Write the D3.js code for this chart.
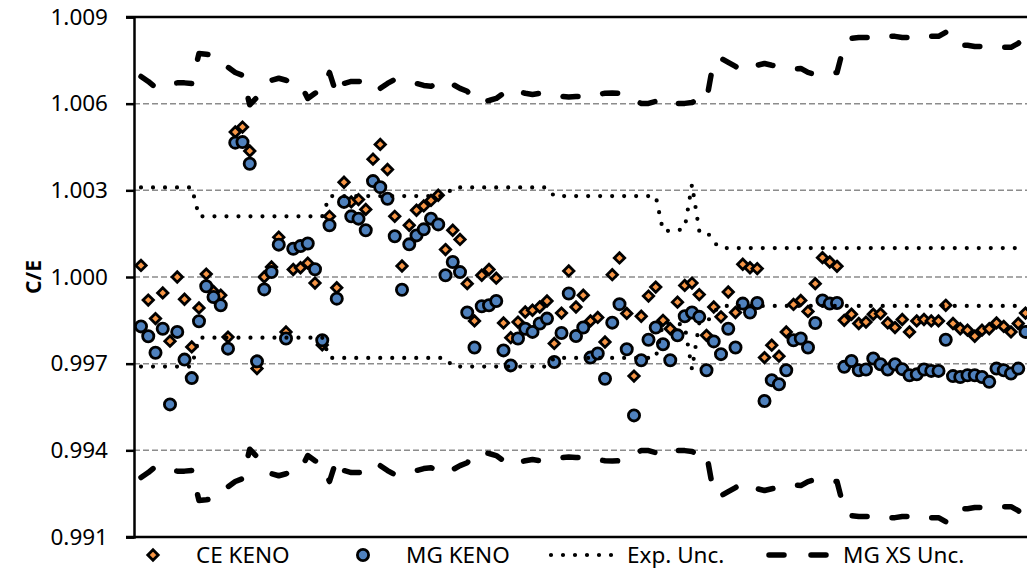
<!DOCTYPE html>
<html>
<head>
<meta charset="utf-8">
<script src="https://cdn.jsdelivr.net/npm/d3@7"></script>
<style>
  body { margin: 0; background: #fff; }
  svg text { font-family: "Noto Sans", "Open Sans", sans-serif; fill: #000; }
</style>
</head>
<body>
<div id="chart"></div>
<script>
// calculated / experimental values per benchmark case (index = case number)
var ceKeno = [
  1.0004, 0.9992, 0.99856, 0.99945, 0.99778, 1.0000, 0.99923, 0.99758, 0.99893, 1.0001,
  0.9995, 0.99937, 0.99792, 1.00502, 1.00519, 1.00436, 0.99683, 1.0000, 1.00035, 1.00138,
  0.9981, 1.00026, 1.00032, 1.00048, 0.99979, 0.99765, 1.0021, 0.99963, 1.00328, 1.0026,
  1.00268, 1.00234, 1.00408, 1.00459, 1.00372, 1.0021, 1.00038, 1.00179, 1.00231, 1.00246,
  1.00265, 1.00283, 1.00095, 1.00162, 1.0013, 0.99977, 0.99848, 1.00006, 1.00026, 0.99996,
  0.99841, 0.9979, 0.99844, 0.99879, 0.99885, 0.99896, 0.99917, 0.9977, 0.99875, 1.00021,
  0.99896, 0.99937, 0.99848, 0.9986, 0.99775, 1.00008, 1.00066, 0.99874, 0.99657, 0.99864,
  0.99934, 0.99965, 0.9985, 0.99821, 0.99913, 0.99971, 0.99979, 0.99939, 0.99798, 0.99896,
  0.99862, 0.99948, 0.99877, 1.00044, 1.00032, 1.00029, 0.99721, 0.99764, 0.99726, 0.9981,
  0.99905, 0.99919, 0.99881, 0.99977, 1.00067, 1.00052, 1.00037, 0.9985, 0.99871, 0.99839,
  0.99844, 0.99871, 0.99873, 0.99841, 0.99825, 0.99853, 0.9981, 0.99848, 0.99853, 0.99848,
  0.99848, 0.99902, 0.99839, 0.99821, 0.99816, 0.99795, 0.99816, 0.99821, 0.99841, 0.99829,
  0.9981, 0.99839, 0.99875
];
var mgKeno = [
  0.99829, 0.99795, 0.99738, 0.99821, 0.99559, 0.9981, 0.99714, 0.9965, 0.99847, 0.99968,
  0.99931, 0.99902, 0.99752, 1.00465, 1.00467, 1.00392, 0.99708, 0.99957, 1.00017, 1.00112,
  0.99787, 1.00098, 1.00107, 1.00116, 1.00027, 0.99781, 1.00179, 0.99925, 1.0026, 1.0021,
  1.00202, 1.00162, 1.00332, 1.00311, 1.00271, 1.00141, 0.99956, 1.00113, 1.00144, 1.00165,
  1.00202, 1.00182, 1.00006, 1.00052, 1.00017, 0.99877, 0.99756, 0.99899, 0.99902, 0.99917,
  0.99746, 0.99694, 0.99787, 0.99821, 0.9981, 0.99839, 0.99856, 0.99706, 0.99806, 0.99943,
  0.99796, 0.99825, 0.99721, 0.99735, 0.99648, 0.99842, 0.99906, 0.9975, 0.99521, 0.99712,
  0.99783, 0.99825, 0.99767, 0.99712, 0.99798, 0.99864, 0.99877, 0.99862, 0.99677, 0.99777,
  0.99733, 0.99821, 0.99756, 0.99908, 0.99877, 0.9991, 0.99571, 0.99643, 0.99629, 0.99677,
  0.99781, 0.99787, 0.99756, 0.99841, 0.99919, 0.99908, 0.9991, 0.99689, 0.99709, 0.99677,
  0.9968, 0.99718, 0.99698, 0.9968, 0.99698, 0.99681, 0.9966, 0.99663, 0.9968, 0.99675,
  0.99675, 0.99783, 0.99657, 0.99654, 0.9966, 0.9966, 0.99654, 0.99637, 0.99683, 0.99677,
  0.99666, 0.99683, 0.9981
];
// experimental uncertainty (1 sigma), drawn as 1 +/- unc
var expUnc = [
  0.0031, 0.0031, 0.0031, 0.0031, 0.0031, 0.0031, 0.0031, 0.0031, 0.0021, 0.0021,
  0.0021, 0.0021, 0.0021, 0.0021, 0.0021, 0.0021, 0.0021, 0.0021, 0.0021, 0.0021,
  0.0021, 0.0021, 0.0021, 0.0021, 0.0021, 0.0021, 0.0028, 0.0028, 0.0028, 0.0028,
  0.0028, 0.0028, 0.0028, 0.0028, 0.0028, 0.0028, 0.0028, 0.0028, 0.0028, 0.0028,
  0.0028, 0.0028, 0.0028, 0.0031, 0.0031, 0.0031, 0.0031, 0.0031, 0.0031, 0.0031,
  0.0031, 0.0031, 0.0031, 0.0031, 0.0031, 0.0031, 0.0031, 0.0028, 0.0028, 0.0028,
  0.0028, 0.0028, 0.0028, 0.0028, 0.0028, 0.0028, 0.0028, 0.0028, 0.0028, 0.0028,
  0.0028, 0.0028, 0.0016, 0.0016, 0.0016, 0.0017, 0.0032, 0.0016, 0.0016, 0.0012,
  0.0010, 0.0010, 0.0010, 0.0010, 0.0010, 0.0010, 0.0010, 0.0010, 0.0010, 0.0010,
  0.0010, 0.0010, 0.0010, 0.0010, 0.0010, 0.0010, 0.0010, 0.0010, 0.0010, 0.0010,
  0.0010, 0.0010, 0.0010, 0.0010, 0.0010, 0.0010, 0.0010, 0.0010, 0.0010, 0.0010,
  0.0010, 0.0010, 0.0010, 0.0010, 0.0010, 0.0010, 0.0010, 0.0010, 0.0010, 0.0010,
  0.0010, 0.0010, 0.0010
];
// MG cross section uncertainty, drawn as 1 +/- unc
var xsUnc = [
  0.00694, 0.00677, 0.00656, 0.00665, 0.0067, 0.00672, 0.00672, 0.0067, 0.00774, 0.00771,
  0.00767, 0.0075, 0.00726, 0.00708, 0.00698, 0.00596, 0.00622, 0.00653, 0.00681, 0.00688,
  0.00681, 0.0067, 0.00667, 0.00618, 0.00636, 0.00646, 0.00708, 0.00629, 0.0067, 0.00677,
  0.00677, 0.00674, 0.00681, 0.00653, 0.0067, 0.00684, 0.00681, 0.00674, 0.0067, 0.00663,
  0.0066, 0.00674, 0.00681, 0.00667, 0.00653, 0.00643, 0.00608, 0.00608, 0.00611, 0.00618,
  0.00636, 0.00653, 0.00643, 0.00636, 0.00632, 0.00636, 0.00636, 0.00632, 0.00625, 0.00623,
  0.00625, 0.00625, 0.00625, 0.00632, 0.00636, 0.00637, 0.00636, 0.00629, 0.00611, 0.00601,
  0.00601, 0.00608, 0.00618, 0.00611, 0.00601, 0.00601, 0.00604, 0.00618, 0.00611, 0.0075,
  0.00757, 0.00743, 0.00729, 0.00712, 0.00722, 0.00733, 0.00739, 0.00733, 0.00729, 0.00722,
  0.00719, 0.00722, 0.00708, 0.00701, 0.00701, 0.00705, 0.00708, 0.00805, 0.00826, 0.00829,
  0.00829, 0.00829, 0.00829, 0.00833, 0.00833, 0.00829, 0.00829, 0.00826, 0.00829, 0.00833,
  0.00833, 0.00847, 0.00812, 0.00802, 0.00802, 0.00798, 0.00798, 0.00795, 0.00795, 0.00795,
  0.00795, 0.00809, 0.00829
];
var yTicks = [0.991, 0.994, 0.997, 1.000, 1.003, 1.006, 1.009];
var yTitle = "C/E";
var legendLabels = ["CE KENO", "MG KENO", "Exp. Unc.", "MG XS Unc."];

var width = 1027, height = 569;
var plotLeft = 134, plotTop = 17, plotBottom = 537;
var markerStroke = 2.8;

var svg = d3.select("#chart").append("svg")
    .attr("width", width)
    .attr("height", height);

var x = d3.scaleLinear().domain([0, ceKeno.length - 1]).range([141, 1025.5]);
var y = d3.scaleLinear().domain([0.991, 1.009]).range([plotBottom, plotTop]);

// gridlines
svg.append("g")
    .selectAll("line")
    .data(yTicks.slice(1, -1))
    .enter()
    .append("line")
    .attr("x1", plotLeft)
    .attr("x2", width)
    .attr("y1", function(d) { return y(d); })
    .attr("y2", function(d) { return y(d); })
    .attr("stroke", "#8c8c8c")
    .attr("stroke-width", 1.5)
    .attr("stroke-dasharray", "6,3");

// y axis
var yAxis = d3.axisLeft(y)
    .tickValues(yTicks)
    .tickSize(8)
    .tickPadding(18)
    .tickFormat(d3.format(".3f"));
var gy = svg.append("g")
    .attr("transform", "translate(" + plotLeft + ",0)")
    .call(yAxis);
gy.select(".domain").attr("stroke", "#000").attr("stroke-width", 2.5);
gy.selectAll(".tick line").attr("stroke", "#000").attr("stroke-width", 2.5);
gy.selectAll(".tick text")
    .attr("font-size", 22.5)
    .attr("font-family", "'Noto Sans', sans-serif");

// top and bottom frame lines
[plotTop, plotBottom].forEach(function(py) {
    svg.append("line")
        .attr("x1", plotLeft - 8).attr("x2", width)
        .attr("y1", py).attr("y2", py)
        .attr("stroke", "#000")
        .attr("stroke-width", 2.5);
});

svg.append("text")
    .attr("transform", "translate(41," + y(1.0) + ") rotate(-90)")
    .attr("text-anchor", "middle")
    .attr("font-size", 21)
    .attr("font-weight", "bold")
    .text(yTitle);

var plot = svg.append("g");

var diamond = function(cx, cy, r) {
    return "M" + cx + "," + (cy - r) + "L" + (cx + r) + "," + cy +
        "L" + cx + "," + (cy + r) + "L" + (cx - r) + "," + cy + "Z";
};

// CE KENO diamonds
plot.append("g")
    .selectAll("path")
    .data(ceKeno)
    .enter()
    .append("path")
    .attr("d", function(d, i) { return diamond(x(i), y(d), 5.2); })
    .attr("fill", "#f79646")
    .attr("stroke", "#000")
    .attr("stroke-width", markerStroke);

// MG KENO circles
plot.append("g")
    .selectAll("circle")
    .data(mgKeno)
    .enter()
    .append("circle")
    .attr("cx", function(d, i) { return x(i); })
    .attr("cy", function(d) { return y(d); })
    .attr("r", 5.6)
    .attr("fill", "#4f81bd")
    .attr("stroke", "#000")
    .attr("stroke-width", markerStroke);

var upper = d3.line()
    .x(function(d, i) { return x(i); })
    .y(function(d) { return y(1 + d); });
var lower = d3.line()
    .x(function(d, i) { return x(i); })
    .y(function(d) { return y(1 - d); });

var lineStyles = [
    { data: expUnc, width: 4.2, dash: "0,12" },
    { data: xsUnc, width: 5.5, dash: "15,25" }
];
lineStyles.forEach(function(s) {
    [upper, lower].forEach(function(gen) {
        plot.append("path")
            .attr("d", gen(s.data))
            .attr("fill", "none")
            .attr("stroke", "#000")
            .attr("stroke-width", s.width)
            .attr("stroke-linecap", "round")
            .attr("stroke-linejoin", "round")
            .attr("stroke-dasharray", s.dash);
    });
});

// legend
var ly = 555;
var legend = svg.append("g");
legend.append("path")
    .attr("d", diamond(153, ly, 5.2))
    .attr("fill", "#f79646")
    .attr("stroke", "#000")
    .attr("stroke-width", markerStroke);
legend.append("circle")
    .attr("cx", 363).attr("cy", ly).attr("r", 5.6)
    .attr("fill", "#4f81bd")
    .attr("stroke", "#000")
    .attr("stroke-width", markerStroke);
legend.append("line")
    .attr("x1", 551).attr("x2", 613).attr("y1", ly).attr("y2", ly)
    .attr("stroke", "#000").attr("stroke-width", 4.2)
    .attr("stroke-linecap", "round").attr("stroke-dasharray", "0,12");
legend.append("line")
    .attr("x1", 769).attr("x2", 826).attr("y1", ly).attr("y2", ly)
    .attr("stroke", "#000").attr("stroke-width", 5.5)
    .attr("stroke-linecap", "round").attr("stroke-dasharray", "15,27");

var legendX = [196, 406, 627, 843];
legend.selectAll("text")
    .data(legendLabels)
    .enter()
    .append("text")
    .attr("x", function(d, i) { return legendX[i]; })
    .attr("y", ly + 8)
    .attr("font-size", 22.5)
    .text(function(d) { return d; });
</script>
</body>
</html>
